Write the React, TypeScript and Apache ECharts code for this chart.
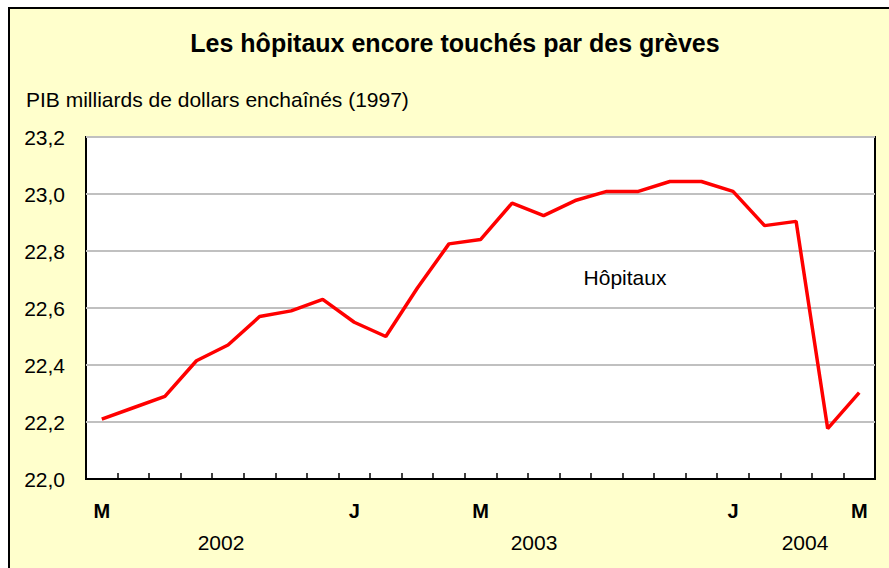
import React, { useEffect, useRef } from "react";
import * as echarts from "echarts";

const MONTH_LABELS = [
  "M", "", "", "", "", "", "", "", "J", "", "", "", "M",
  "", "", "", "", "", "", "", "J", "", "", "", "M",
];
const HOSPITALS = [
  22.21, 22.25, 22.29, 22.415, 22.47, 22.57, 22.59, 22.63, 22.55, 22.5,
  22.67, 22.825, 22.84, 22.968, 22.924, 22.977, 23.009, 23.009, 23.044,
  23.044, 23.009, 22.889, 22.904, 22.177, 22.303,
];
const YEARS = ["2002", "2003", "2004"];
const TITLE = "Les hôpitaux encore touchés par des grèves";
const Y_TITLE = "PIB milliards de dollars enchaînés (1997)";
const SERIES_NAME = "Hôpitaux";

const YEAR_X = [221, 534, 805];
const FONT = "'Liberation Sans', Arial, sans-serif";

export default function App() {
  const ref = useRef<HTMLDivElement>(null);
  useEffect(() => {
    if (!ref.current) return;
    const chart = echarts.init(ref.current, undefined, { renderer: "svg" });
    chart.setOption({
      animation: false,
      textStyle: { fontFamily: FONT },
      grid: {
        left: 86,
        right: 14,
        top: 137,
        bottom: 89,
        show: true,
        backgroundColor: "#ffffff",
        borderColor: "#000000",
        borderWidth: 2,
      },
      xAxis: {
        type: "category",
        data: MONTH_LABELS,
        boundaryGap: true,
        z: 5,
        axisLine: { lineStyle: { color: "#000000", width: 2 } },
        axisTick: {
          show: true,
          inside: true,
          length: 6,
          interval: 0,
          lineStyle: { color: "#000000", width: 1.5 },
        },
        axisLabel: {
          interval: 0,
          margin: 22,
          color: "#000000",
          fontSize: 20,
          fontWeight: "bold",
          fontFamily: FONT,
        },
        splitLine: { show: false },
      },
      yAxis: {
        type: "value",
        min: 22,
        max: 23.2,
        interval: 0.2,
        z: 1,
        axisLine: { show: false },
        axisTick: { show: false },
        axisLabel: {
          margin: 21,
          color: "#000000",
          fontSize: 21,
          fontFamily: FONT,
          formatter: (v: number) => v.toFixed(1).replace(".", ","),
        },
        splitLine: { lineStyle: { color: "#C0C0C0", width: 2 } },
      },
      series: [
        {
          type: "line",
          name: SERIES_NAME,
          data: HOSPITALS,
          showSymbol: false,
          symbol: "none",
          lineStyle: { color: "#FF0000", width: 3.5 },
          z: 3,
        },
      ],
      graphic: [
        {
          type: "rect",
          z: -10,
          silent: true,
          shape: { x: 9, y: 8, width: 900, height: 600 },
          style: { fill: "#FFFFCC", stroke: "#000000", lineWidth: 2 },
        },
        {
          type: "text",
          z: 10,
          x: 455,
          y: 43,
          style: {
            text: TITLE,
            fill: "#000000",
            font: `bold 25px ${FONT}`,
            textAlign: "center",
            textVerticalAlign: "middle",
          },
        },
        {
          type: "text",
          z: 10,
          x: 26,
          y: 99,
          style: {
            text: Y_TITLE,
            fill: "#000000",
            font: `21px ${FONT}`,
            textAlign: "left",
            textVerticalAlign: "middle",
          },
        },
        {
          type: "text",
          z: 10,
          x: 625,
          y: 277,
          style: {
            text: SERIES_NAME,
            fill: "#000000",
            font: `21px ${FONT}`,
            textAlign: "center",
            textVerticalAlign: "middle",
          },
        },
        ...YEARS.map((y, i) => ({
          type: "text",
          z: 10,
          x: YEAR_X[i],
          y: 542,
          style: {
            text: y,
            fill: "#000000",
            font: `21px ${FONT}`,
            textAlign: "center",
            textVerticalAlign: "middle",
          },
        })),
      ],
    });
    return () => chart.dispose();
  }, []);
  return (
    <div
      ref={ref}
      style={{ position: "fixed", left: 0, top: 0, width: 889, height: 568, background: "#ffffff" }}
    />
  );
}
